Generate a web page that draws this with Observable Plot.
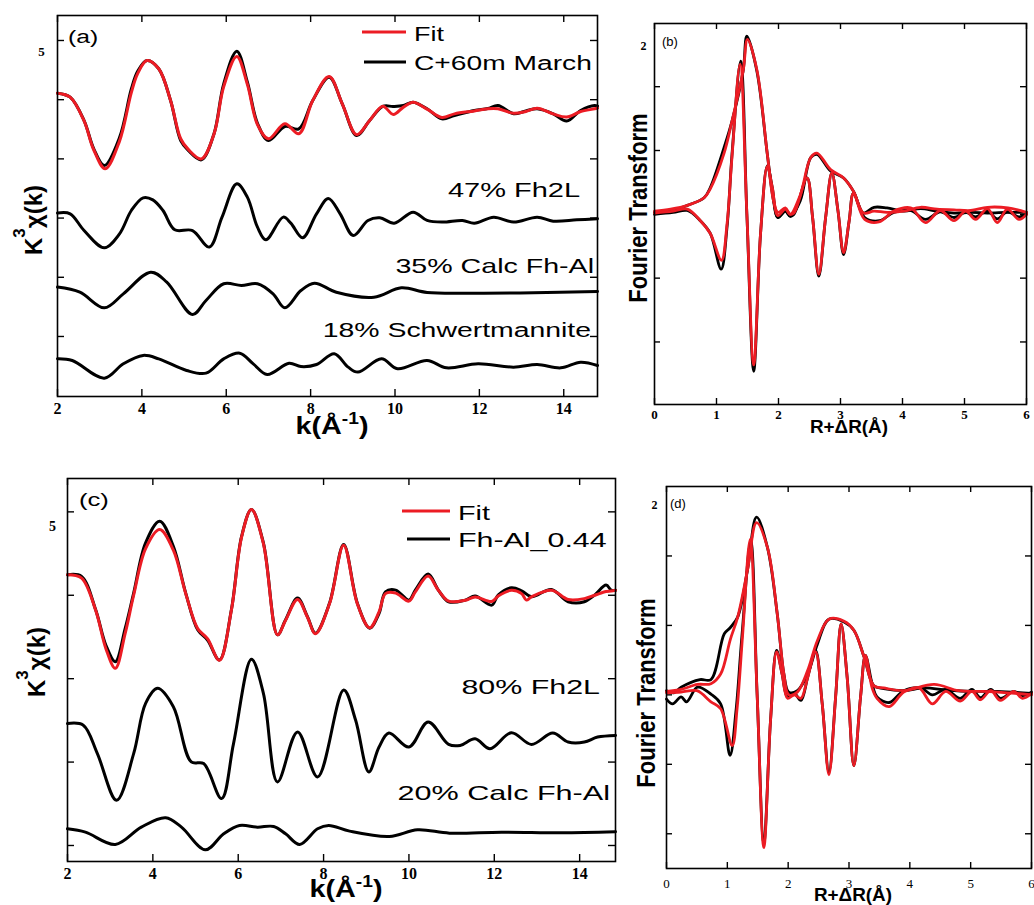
<!DOCTYPE html>
<html><head><meta charset="utf-8">
<script src="https://cdn.jsdelivr.net/npm/d3@7"></script>
<script src="https://cdn.jsdelivr.net/npm/@observablehq/plot@0.6"></script>
<style>
body{margin:0;background:#fff;}
#fig{position:relative;width:1034px;height:905px;overflow:hidden;background:#fff;}
</style></head><body><div id="fig"></div>
<script>
// ---------- Panel (a): k^3 chi(k), C+60m March ----------
const aData = [[2.0,0.55],[2.3,0.21],[2.63,-1.76],[2.86,-4.15],[3.11,-5.56],[3.47,-3.2],[3.75,0.9],[3.9,2.4],[4.12,3.31],[4.40,2.61],[4.68,-0.07],[4.92,-3.45],[5.10,-4.29],[5.41,-5.08],[5.71,-2.88],[5.94,1.34],[6.25,4.10],[6.50,1.5],[6.74,-2.0],[7.0,-3.45],[7.39,-2.26],[7.72,-2.46],[8.05,-0.07],[8.44,1.90],[8.75,-0.35],[9.09,-3.02],[9.40,-1.76],[9.71,-0.57],[9.96,-0.57],[10.2,-0.49],[10.43,-0.21],[10.76,-0.77],[11.11,-1.62],[11.41,-1.33],[11.88,-0.91],[12.2,-0.75],[12.44,-0.49],[12.81,-1.19],[13.1,-0.95],[13.37,-0.77],[13.75,-1.19],[14.07,-1.81],[14.4,-0.91],[14.73,-0.49],[14.8,-0.55]];
const aFit = [[2.0,0.55],[2.3,0.21],[2.63,-1.8],[2.86,-4.25],[3.13,-5.84],[3.47,-3.5],[3.75,0.6],[3.9,2.2],[4.12,3.31],[4.40,2.61],[4.68,-0.07],[4.92,-3.3],[5.10,-4.2],[5.41,-5.0],[5.71,-2.9],[5.94,1.1],[6.25,3.65],[6.50,1.3],[6.74,-2.1],[7.0,-3.3],[7.39,-2.04],[7.72,-2.88],[8.05,-0.07],[8.44,1.95],[8.75,-0.35],[9.09,-2.95],[9.40,-1.76],[9.71,-0.55],[9.96,-1.25],[10.2,-0.63],[10.43,-0.21],[10.76,-0.8],[11.11,-1.5],[11.41,-1.2],[11.88,-0.95],[12.2,-0.77],[12.44,-0.77],[12.81,-1.15],[13.1,-1.0],[13.37,-0.72],[13.75,-1.2],[14.07,-1.47],[14.4,-1.0],[14.73,-0.77],[14.8,-0.7]];
const aFh2L = [[2.0,-9.58],[2.3,-9.64],[2.63,-11.05],[3.11,-12.51],[3.47,-11.33],[3.75,-9.36],[4.03,-8.29],[4.26,-8.46],[4.5,-9.36],[4.78,-10.99],[5.2,-11.05],[5.6,-12.45],[5.9,-9.92],[6.25,-7.11],[6.5,-8.23],[6.74,-10.77],[6.94,-11.84],[7.35,-9.92],[7.53,-10.43],[7.81,-11.67],[8.14,-9.64],[8.42,-8.34],[8.7,-9.64],[9.01,-11.47],[9.36,-10.2],[9.64,-9.98],[9.98,-10.43],[10.43,-9.5],[10.76,-10.2],[11.13,-10.34],[11.6,-10.2],[11.88,-10.43],[12.34,-9.92],[12.81,-10.34],[13.37,-9.92],[13.75,-10.26],[14.31,-10.15],[14.8,-10.06]];
const aCalc = [[2.0,-15.83],[2.53,-16.26],[3.11,-17.58],[3.56,-16.4],[4.21,-14.57],[4.59,-15.41],[5.2,-18.14],[5.52,-16.96],[5.94,-15.55],[6.36,-15.69],[6.74,-15.55],[7.11,-16.4],[7.39,-17.58],[7.77,-16.12],[8.09,-15.5],[8.61,-16.26],[9.5,-16.68],[10.15,-15.89],[10.76,-16.28],[11.88,-16.34],[13.28,-16.31],[14.8,-16.2]];
const aSchw = [[2.0,-21.89],[2.35,-22.03],[3.11,-23.52],[3.56,-22.31],[4.03,-21.6],[4.4,-21.89],[5.06,-22.87],[5.52,-23.1],[5.94,-21.89],[6.32,-21.41],[6.64,-22.31],[6.97,-23.21],[7.49,-22.26],[7.77,-22.54],[8.14,-22.37],[8.56,-21.46],[8.89,-22.59],[9.12,-23.01],[9.68,-21.89],[10.06,-22.73],[10.76,-22.03],[11.22,-22.65],[11.97,-22.31],[12.81,-22.59],[13.37,-22.37],[13.93,-22.65],[14.4,-22.17],[14.8,-22.45]];

// ---------- Panel (c): k^3 chi(k), Fh-Al_0.44 ----------
const cData = [[2.0,1.23],[2.33,1.13],[2.66,-0.87],[2.9,-3.0],[3.12,-3.98],[3.35,-2.0],[3.55,0.13],[3.83,3.14],[4.16,4.44],[4.48,2.94],[4.77,0.13],[5.05,-2.07],[5.28,-2.68],[5.56,-3.88],[5.84,-0.87],[6.08,3.54],[6.31,5.14],[6.59,3.14],[6.92,-2.37],[7.11,-1.47],[7.39,-0.17],[7.62,-1.27],[7.81,-2.27],[8.14,-0.47],[8.47,3.04],[8.79,-0.47],[9.08,-1.97],[9.30,-1.09],[9.45,0.21],[9.69,0.31],[10.0,-0.29],[10.15,0.31],[10.45,1.27],[10.69,0.31],[10.93,-0.39],[11.32,-0.29],[11.55,-0.05],[11.94,-0.59],[12.09,0.01],[12.40,0.45],[12.64,0.27],[12.87,-0.09],[13.34,0.35],[13.73,-0.39],[14.11,-0.39],[14.35,0.01],[14.62,0.61],[14.74,0.31],[14.84,0.3]];
const cFit = [[2.0,1.23],[2.33,1.03],[2.66,-0.9],[2.9,-3.2],[3.12,-4.38],[3.35,-2.3],[3.55,0.0],[3.83,2.8],[4.16,3.94],[4.48,2.7],[4.77,0.1],[5.05,-2.0],[5.28,-2.6],[5.56,-3.9],[5.84,-0.9],[6.08,3.5],[6.31,5.14],[6.59,3.1],[6.92,-2.37],[7.11,-1.5],[7.39,-0.25],[7.62,-1.3],[7.81,-2.3],[8.14,-0.5],[8.47,3.0],[8.79,-0.5],[9.08,-1.95],[9.30,-1.0],[9.45,0.1],[9.69,0.13],[10.0,-0.35],[10.15,0.2],[10.45,1.15],[10.69,0.3],[10.93,-0.35],[11.32,-0.3],[11.55,-0.1],[11.94,-0.37],[12.09,-0.05],[12.40,0.3],[12.64,0.1],[12.75,-0.29],[12.87,-0.1],[13.34,0.3],[13.73,-0.25],[14.11,-0.2],[14.35,0.0],[14.62,0.23],[14.74,0.25],[14.84,0.3]];
const cFh2L = [[2.0,-7.69],[2.37,-7.79],[2.7,-9.49],[3.15,-12.29],[3.55,-9.49],[3.83,-6.48],[4.11,-5.58],[4.48,-6.68],[4.9,-9.99],[5.19,-10.09],[5.61,-12.19],[5.89,-8.89],[6.31,-3.84],[6.59,-5.88],[6.92,-11.19],[7.39,-8.19],[7.86,-10.89],[8.47,-5.68],[8.75,-7.48],[9.06,-10.59],[9.3,-9.1],[9.53,-8.26],[10.0,-9.1],[10.45,-7.6],[10.93,-8.94],[11.2,-9.0],[11.55,-8.6],[11.9,-9.2],[12.4,-8.24],[12.87,-8.94],[13.37,-8.26],[13.73,-8.8],[14.11,-8.8],[14.42,-8.5],[14.84,-8.4]];
const cCalc = [[2.0,-14.0],[2.42,-14.2],[3.12,-14.94],[3.73,-13.9],[4.3,-13.34],[4.67,-13.9],[5.23,-15.26],[5.66,-14.3],[6.03,-13.8],[6.45,-13.9],[6.83,-13.86],[7.11,-14.3],[7.44,-14.94],[7.86,-14.0],[8.12,-13.8],[8.61,-14.14],[9.54,-14.46],[10.2,-14.06],[10.95,-14.26],[12.17,-14.2],[13.57,-14.24],[14.84,-14.18]];

// ---------- Panel (b): Fourier transform, C+60m March ----------
const bMagData = [[0,0.03],[0.26,0.05],[0.53,0.14],[0.8,0.26],[0.9,0.42],[1.12,1.04],[1.25,1.46],[1.43,2.25],[1.49,2.79],[1.65,2.25],[1.82,0.94],[1.92,0.21],[1.99,-0.05],[2.11,0.05],[2.19,-0.03],[2.35,0.21],[2.52,0.89],[2.62,0.94],[2.84,0.68],[3.05,0.57],[3.21,0.36],[3.37,0.02],[3.54,0.11],[3.75,0.1],[4.02,0.05],[4.29,0.09],[4.56,0.05],[4.83,0.02],[5.1,0.03],[5.37,0.02],[5.7,0.03],[6.0,0.03]];
const bMagFit = [[0,0.05],[0.26,0.08],[0.53,0.14],[0.8,0.26],[0.9,0.4],[1.12,0.95],[1.25,1.46],[1.43,2.25],[1.5,2.74],[1.65,2.27],[1.82,0.94],[1.92,0.21],[1.99,0.03],[2.11,0.1],[2.19,0.0],[2.35,0.3],[2.52,0.89],[2.62,0.96],[2.84,0.7],[3.05,0.57],[3.21,0.36],[3.37,0.02],[3.54,0.05],[3.75,0.03],[4.02,0.05],[4.29,0.11],[4.56,0.08],[4.83,0.07],[5.1,0.06],[5.37,0.11],[5.7,0.1],[6.0,0.03]];
const bImData = [[0,0],[0.3,0.03],[0.53,0.06],[0.74,-0.1],[0.9,-0.3],[1.075,-0.86],[1.17,-0.2],[1.25,0.94],[1.39,2.40],[1.49,0.0],[1.6,-2.46],[1.71,-0.31],[1.82,0.76],[1.9,0.42],[1.99,-0.05],[2.11,0.05],[2.19,-0.03],[2.25,0.0],[2.46,0.57],[2.55,-0.05],[2.65,-0.97],[2.76,-0.05],[2.86,0.65],[2.96,0.05],[3.05,-0.63],[3.14,-0.1],[3.21,0.33],[3.39,-0.05],[3.63,-0.1],[3.86,0.03],[4.13,0.06],[4.37,-0.08],[4.61,0.04],[4.83,-0.05],[5.02,0.03],[5.18,-0.04],[5.37,0.05],[5.53,-0.07],[5.69,0.04],[5.88,-0.04],[6.0,0.0]];
const bImFit = [[0,0.02],[0.3,0.05],[0.53,0.08],[0.74,-0.1],[0.9,-0.3],[1.08,-0.72],[1.17,-0.15],[1.25,0.9],[1.38,2.35],[1.49,0.0],[1.6,-2.36],[1.71,-0.31],[1.82,0.75],[1.9,0.42],[1.99,-0.02],[2.11,0.08],[2.19,0.0],[2.25,0.02],[2.46,0.57],[2.55,-0.05],[2.65,-0.94],[2.76,-0.05],[2.86,0.65],[2.96,0.05],[3.05,-0.6],[3.14,-0.1],[3.21,0.33],[3.39,-0.08],[3.62,-0.12],[3.86,0.05],[4.13,0.1],[4.37,-0.13],[4.61,0.06],[4.83,-0.1],[5.02,0.05],[5.18,-0.08],[5.37,0.09],[5.53,-0.13],[5.69,0.08],[5.88,-0.08],[6.0,0.0]];

// ---------- Panel (d): Fourier transform, Fh-Al_0.44 ----------
const dMagData = [[0,0.06],[0.12,0.03],[0.24,0.11],[0.55,0.22],[0.73,0.22],[0.95,0.88],[1.05,0.97],[1.17,1.12],[1.33,1.79],[1.48,2.56],[1.66,2.12],[1.82,1.17],[1.93,0.30],[2.01,0.04],[2.15,0.06],[2.32,0.30],[2.48,0.73],[2.67,1.09],[2.92,1.05],[3.08,0.93],[3.25,0.54],[3.41,0.13],[3.57,0.09],[3.9,0.06],[4.23,0.1],[4.61,0.07],[5.0,0.05],[5.44,0.05],[6.0,0.02]];
const dMagFit = [[0,0.05],[0.24,0.08],[0.51,0.15],[0.73,0.16],[0.89,0.3],[1.05,0.8],[1.17,1.12],[1.33,1.79],[1.48,2.48],[1.66,2.12],[1.82,1.17],[1.93,0.30],[2.01,0.0],[2.15,0.04],[2.32,0.35],[2.48,0.78],[2.67,1.09],[2.92,1.06],[3.08,0.93],[3.25,0.54],[3.41,0.13],[3.57,0.1],[3.9,0.06],[4.4,0.15],[4.8,0.06],[5.2,0.05],[5.6,0.03],[6.0,0.0]];
const dImData = [[0,-0.06],[0.1,-0.13],[0.24,-0.03],[0.33,-0.1],[0.51,0.11],[0.73,0.01],[0.89,-0.13],[1.045,-0.87],[1.14,-0.25],[1.24,0.85],[1.385,2.22],[1.49,0.0],[1.6,-2.14],[1.71,-0.37],[1.81,0.64],[1.9,0.30],[1.99,-0.03],[2.1,0.02],[2.21,-0.08],[2.32,0.25],[2.45,0.64],[2.56,-0.13],[2.67,-1.11],[2.78,-0.03],[2.87,1.02],[2.97,0.25],[3.08,-1.02],[3.19,-0.03],[3.27,0.57],[3.38,0.16],[3.46,-0.03],[3.66,-0.11],[3.9,0.06],[4.18,0.1],[4.37,0.0],[4.59,0.08],[4.83,-0.05],[5.02,0.08],[5.16,-0.04],[5.33,0.08],[5.49,-0.05],[5.71,0.05],[5.85,-0.01],[6.0,0.04]];
const dImFit = [[0,0.03],[0.24,0.04],[0.5,0.06],[0.73,-0.1],[0.89,-0.2],[1.08,-0.73],[1.16,-0.2],[1.25,0.85],[1.375,2.24],[1.49,0.0],[1.6,-2.2],[1.71,-0.37],[1.81,0.62],[1.9,0.30],[1.99,-0.05],[2.1,0.0],[2.21,-0.05],[2.32,0.25],[2.45,0.62],[2.56,-0.13],[2.67,-1.15],[2.78,-0.03],[2.87,1.02],[2.97,0.25],[3.08,-1.02],[3.19,-0.03],[3.27,0.57],[3.38,0.1],[3.46,-0.05],[3.66,-0.17],[3.9,0.04],[4.15,0.1],[4.37,-0.13],[4.59,0.05],[4.83,-0.09],[5.02,0.05],[5.16,-0.07],[5.33,0.06],[5.49,-0.08],[5.71,0.05],[5.85,-0.05],[6.0,0.02]];

// ---------- Axis ticks and labels ----------
const kTicks = [2,4,6,8,10,12,14];
const rTicks = [0,1,2,3,4,5,6];
const aYTicks = [5,0,-5,-10,-15,-20];
const cYTicks = [5,0,-5,-10,-15];
const ftYTicks = [-2,-1,0,1,2];

const RED = "#ec1c24", BLACK = "#000";
const fig = document.getElementById("fig");

function addPlot(o){
  const [x0,x1]=o.xd, [y0,y1]=o.yd;
  const iw=o.w-o.ml-o.mr, ih=o.h-o.mt-o.mb;
  const ty=o.tick*(y1-y0)/ih, tx=o.tick*(x1-x0)/iw;
  const ts={stroke:"#000",strokeWidth:1.4};
  const marks=[
    Plot.ruleX(o.xt,{x:d=>d,y1:y0,y2:y0+ty,...ts}),
    Plot.ruleX(o.xt,{x:d=>d,y1:y1,y2:y1-ty,...ts}),
    Plot.ruleY(o.yt,{y:d=>d,x1:x0,x2:x0+tx,...ts}),
    Plot.ruleY(o.yt,{y:d=>d,x1:x1,x2:x1-tx,...ts}),
    Plot.axisX({anchor:"bottom",ticks:o.xt,tickSize:0,tickPadding:o.pad,tickFormat:d=>String(d),
      fontSize:o.fs,fontWeight:o.fw,fontFamily:"Liberation Serif",label:null}),
    Plot.text([o.ylab],{y:d=>d.v,text:d=>d.t,frameAnchor:"left",dx:o.ylab.dx,
      fontSize:o.ylab.fs,fontWeight:"bold",fontFamily:"Liberation Serif",textAnchor:"middle"}),
    ...o.lines.map(l=>Plot.line(l.data,{x:d=>d[0],y:d=>d[1],stroke:l.c,strokeWidth:l.sw,
      curve:"catmull-rom",strokeLinejoin:"round",strokeLinecap:"round"})),
    Plot.frame({stroke:"#000",strokeWidth:1.6})
  ];
  const svg=Plot.plot({width:o.w,height:o.h,marginLeft:o.ml,marginRight:o.mr,marginTop:o.mt,marginBottom:o.mb,
    x:{domain:o.xd},y:{domain:o.yd,axis:null},
    style:{background:"transparent",overflow:"visible",color:"#000"},marks});
  svg.style.position="absolute"; svg.style.left=o.left+"px"; svg.style.top=o.top+"px";
  fig.appendChild(svg);
}

addPlot({left:0,top:0,w:620,h:450,ml:57,mr:23,mt:15,mb:54,xd:[2,14.8],yd:[-25.07,7.11],
  xt:kTicks,yt:aYTicks,tick:7,pad:6,fs:16,fw:"bold",ylab:{t:"5",v:4.0,dx:-16,fs:13},
  lines:[{data:aData,c:BLACK,sw:3},{data:aFit,c:RED,sw:3},{data:aFh2L,c:BLACK,sw:3},{data:aCalc,c:BLACK,sw:3},{data:aSchw,c:BLACK,sw:3}]});

addPlot({left:620,top:0,w:414,h:450,ml:34,mr:8,mt:23,mb:46,xd:[0,6],yd:[-2.98,2.99],
  xt:rTicks,yt:ftYTicks,tick:6,pad:5,fs:13,fw:"bold",ylab:{t:"2",v:2.63,dx:-11,fs:12},
  lines:[{data:bMagData,c:BLACK,sw:2.8},{data:bImData,c:BLACK,sw:2.8},{data:bMagFit,c:RED,sw:2.8},{data:bImFit,c:RED,sw:2.8}]});

addPlot({left:0,top:460,w:630,h:445,ml:67,mr:15,mt:18,mb:44,xd:[2,14.84],yd:[-15.96,7.0],
  xt:kTicks,yt:cYTicks,tick:7,pad:6,fs:16,fw:"bold",ylab:{t:"5",v:4.14,dx:-15,fs:14},
  lines:[{data:cData,c:BLACK,sw:3},{data:cFit,c:RED,sw:3},{data:cFh2L,c:BLACK,sw:3},{data:cCalc,c:BLACK,sw:3}]});

addPlot({left:630,top:470,w:404,h:435,ml:36,mr:3,mt:16,mb:37,xd:[0,6],yd:[-2.5,3.0],
  xt:rTicks,yt:ftYTicks,tick:6,pad:10,fs:13,fw:"normal",ylab:{t:"2",v:2.73,dx:-12,fs:12},
  lines:[{data:dMagData,c:BLACK,sw:2.8},{data:dImData,c:BLACK,sw:2.8},{data:dMagFit,c:RED,sw:2.8},{data:dImFit,c:RED,sw:2.8}]});

// ---------- Annotation overlay ----------
const ov=d3.select(fig).append("svg").attr("width",1034).attr("height",905)
  .style("position","absolute").style("left","0px").style("top","0px")
  .attr("font-family","'Liberation Sans', Arial, sans-serif").attr("fill","#000");
function T(x,y,parts,{fs=20,fw="normal",anchor="start",sx=1,rot=0}={}){
  const t=ov.append("text").attr("transform",`translate(${x},${y}) scale(${sx},1)`+(rot?` rotate(${rot})`:""))
    .attr("font-size",fs).attr("font-weight",fw).attr("text-anchor",anchor);
  for(const p of parts){
    if(typeof p==="string") t.append("tspan").text(p);
    else{const s=t.append("tspan").text(p.t); if(p.dy!=null) s.attr("dy",p.dy); if(p.fs) s.attr("font-size",p.fs);}
  }
}
function L(x1,x2,y,c){ov.append("line").attr("x1",x1).attr("x2",x2).attr("y1",y).attr("y2",y).attr("stroke",c).attr("stroke-width",3);}

// axis titles
const kLab=["k(Å",{t:"-1",dy:-10,fs:16},{t:")",dy:10,fs:24}];
const chiLab=["K",{t:"3",dy:-17,fs:17},{t:"χ(k)",dy:17,fs:24}];
T(42,220,chiLab,{fs:24,fw:"bold",anchor:"middle",sx:1.0,rot:-90});
T(45,662,chiLab,{fs:24,fw:"bold",anchor:"middle",sx:1.0,rot:-90});
T(332,434,kLab,{fs:24,fw:"bold",anchor:"middle",sx:1.2});
T(346,897,kLab,{fs:24,fw:"bold",anchor:"middle",sx:1.2});
T(647,208,["Fourier Transform"],{fs:22,fw:"bold",anchor:"middle",sx:1.15,rot:-90});
T(655,693,["Fourier Transform"],{fs:22,fw:"bold",anchor:"middle",sx:1.15,rot:-90});
T(849,433,["R+ΔR(Å)"],{fs:18,fw:"bold",anchor:"middle",sx:1.05});
T(853,901,["R+ΔR(Å)"],{fs:18,fw:"bold",anchor:"middle",sx:1.05});

// panel letters
T(68,43,["(a)"],{fs:19,sx:1.3});
T(79,506,["(c)"],{fs:19,sx:1.35});
T(662,45.5,["(b)"],{fs:13});
T(670,507.5,["(d)"],{fs:13});

// legends
L(362,406,32,RED); T(414,41,["Fit"],{fs:20,sx:1.35});
L(364,406,62,BLACK); T(414,70,["C+60m March"],{fs:20,sx:1.41});
L(402,450,511,RED); T(458,520,["Fit"],{fs:20,sx:1.44});
L(407,450,539,BLACK); T(458,547,["Fh-Al_0.44"],{fs:20,sx:1.52});

// component labels
T(580,197,["47% Fh2L"],{fs:20,anchor:"end",sx:1.45});
T(594,273,["35% Calc Fh-Al"],{fs:20,anchor:"end",sx:1.43});
T(591,337,["18% Schwertmannite"],{fs:20,anchor:"end",sx:1.42});
T(600,694,["80% Fh2L"],{fs:20,anchor:"end",sx:1.52});
T(610,800,["20% Calc Fh-Al"],{fs:20,anchor:"end",sx:1.53});
</script></body></html>
